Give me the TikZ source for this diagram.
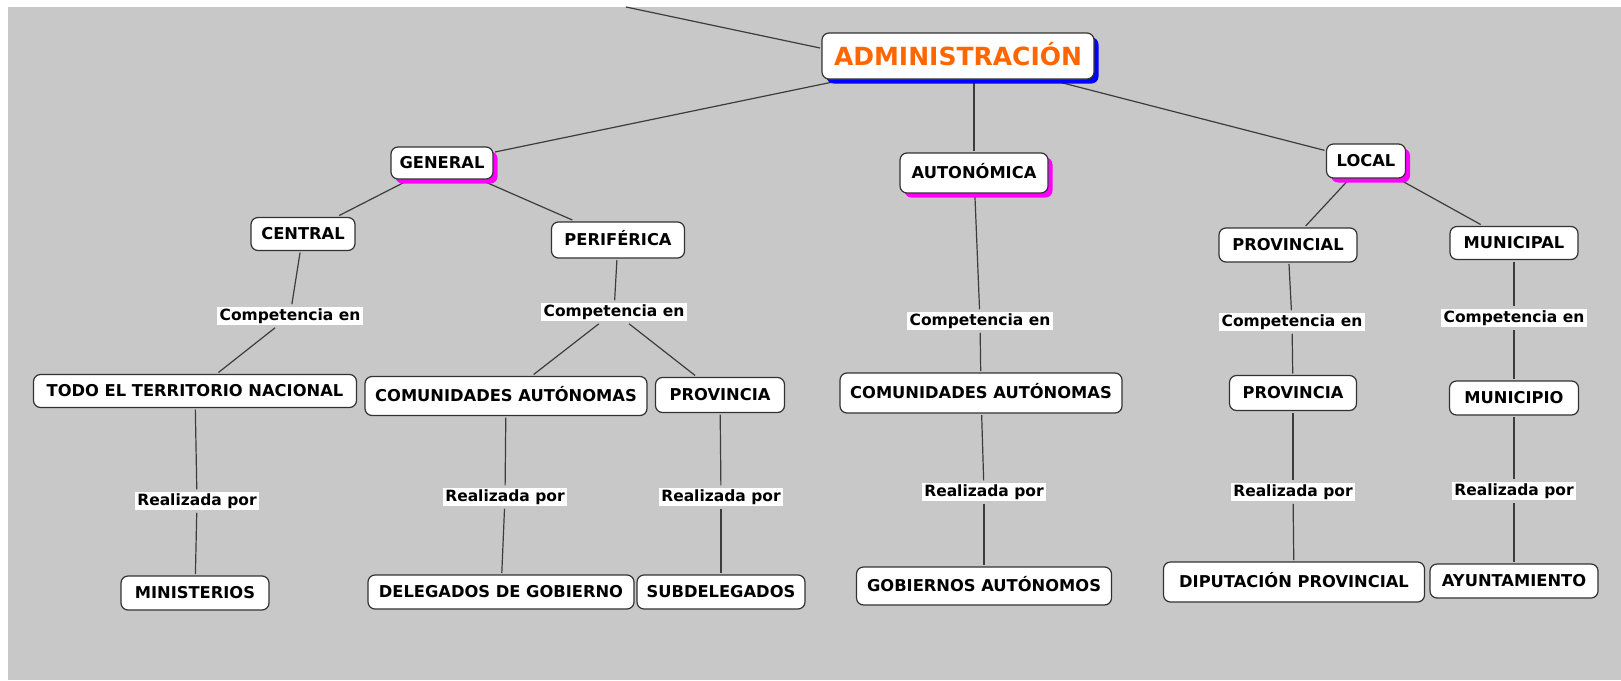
\documentclass[tikz,border=0pt]{standalone}
\usepackage{fontspec}
\setmainfont{DejaVu Sans}
\usetikzlibrary{shadows,backgrounds}
\definecolor{bg}{RGB}{200,200,200}
\definecolor{orng}{RGB}{255,102,0}
\definecolor{frame}{RGB}{50,50,50}
\definecolor{edge}{RGB}{60,60,60}
\definecolor{mgnt}{RGB}{255,0,255}
\definecolor{blu}{RGB}{0,0,255}
\begin{document}
\begin{tikzpicture}[x=1pt, y=-1pt,
    box/.style = {draw=frame, line width=1.2pt, rounded corners=7pt, fill=white,
      font=\fontsize{16.3}{19}\selectfont\bfseries, inner xsep=6pt, inner ysep=0pt,
      minimum height=34pt, text height=11.9pt, text depth=0pt, outer sep=2pt},
    lab/.style = {fill=white, font=\fontsize{15.5}{18}\selectfont\bfseries,
      inner xsep=2.5pt, inner ysep=1.5pt, text height=11.8pt, text depth=3.7pt, outer sep=2.5pt},
    shd/.style = {drop shadow={shadow xshift=4.5pt, shadow yshift=-4.5pt, fill=#1, opacity=1}},
    link/.style = {draw=edge, line width=1.2pt}]
  \useasboundingbox (0,0) rectangle (1621,680);

  % top level
  \node[box, shd=blu, text=orng, font=\fontsize{25}{30}\selectfont\bfseries, text height=18.2pt,
    minimum width=272, minimum height=46](adm) at (958,56) {ADMINISTRACIÓN};
  \coordinate (up) at (626,7);

  % second and third level
  \node[box, shd=mgnt, minimum width=102, minimum height=32](gen) at (442,163) {GENERAL};
  \node[box, shd=mgnt, minimum width=148, minimum height=40](aut) at (974,173) {AUTONÓMICA};
  \node[box, shd=mgnt, minimum width=79](loc) at (1366,161) {LOCAL};
  \node[box, minimum width=104, minimum height=33](cen) at (303,234) {CENTRAL};
  \node[box, minimum width=133, minimum height=36](per) at (618,240) {PERIFÉRICA};
  \node[box, minimum width=138](prl) at (1288,245) {PROVINCIAL};
  \node[box, minimum width=128, minimum height=33](mun) at (1514,243) {MUNICIPAL};

  % competencia en
  \node[lab](c1) at (290,316) {Competencia en};
  \node[lab](c2) at (614,312) {Competencia en};
  \node[lab](c3) at (980,321) {Competencia en};
  \node[lab](c4) at (1292,322) {Competencia en};
  \node[lab](c5) at (1514,318) {Competencia en};

  \node[box, minimum width=323, minimum height=33](tod) at (195,391) {TODO EL TERRITORIO NACIONAL};
  \node[box, minimum width=282, minimum height=39](cal) at (506,396) {COMUNIDADES AUTÓNOMAS};
  \node[box, minimum width=129, minimum height=35](pvg) at (720,395) {PROVINCIA};
  \node[box, minimum width=282, minimum height=40](car) at (981,393) {COMUNIDADES AUTÓNOMAS};
  \node[box, minimum width=127, minimum height=35](pvl) at (1293,393) {PROVINCIA};
  \node[box, minimum width=129](mpo) at (1514,398) {MUNICIPIO};

  % realizada por
  \node[lab](r1) at (197,501) {Realizada por};
  \node[lab](r2) at (505,497) {Realizada por};
  \node[lab](r3) at (721,497) {Realizada por};
  \node[lab](r4) at (984,492) {Realizada por};
  \node[lab](r5) at (1293,492) {Realizada por};
  \node[lab](r6) at (1514,491) {Realizada por};

  \node[box, minimum width=148](min) at (195,593) {MINISTERIOS};
  \node[box, minimum width=266](del) at (501,592) {DELEGADOS DE GOBIERNO};
  \node[box, minimum width=168](sub) at (721,592) {SUBDELEGADOS};
  \node[box, minimum width=255, minimum height=38](gob) at (984,586) {GOBIERNOS AUTÓNOMOS};
  \node[box, minimum width=261, minimum height=40](dip) at (1294,582) {DIPUTACIÓN PROVINCIAL};
  \node[box, minimum width=168](ayu) at (1514,581) {AYUNTAMIENTO};

  \begin{scope}[on background layer]
    \fill[white] (0,0) rectangle (1621,680);
    \fill[bg] (8,7) rectangle (1621,680);
    \draw[link] (up) -- ([yshift=8pt]adm.west); \draw[link] (adm) -- (gen);
    \draw[link] (aut) -- (aut |- adm.south); \draw[link] (adm) -- (loc);
    \draw[link] (gen) -- (cen); \draw[link] (gen) -- (per);
    \draw[link] (loc) -- (prl); \draw[link] (loc) -- (mun);
    \draw[link] (cen) -- (c1); \draw[link] (c1) -- (tod); \draw[link] (tod) -- (r1); \draw[link] (r1) -- (min);
    \draw[link] (per) -- (c2); \draw[link] (c2) -- (cal); \draw[link] (c2) -- (pvg);
    \draw[link] (cal) -- (r2); \draw[link] (r2) -- (del); \draw[link] (pvg) -- (r3); \draw[link] (r3) -- (sub);
    \draw[link] (aut) -- (c3); \draw[link] (c3) -- (car); \draw[link] (car) -- (r4); \draw[link] (r4) -- (gob);
    \draw[link] (prl) -- (c4); \draw[link] (c4) -- (pvl); \draw[link] (pvl) -- (r5); \draw[link] (r5) -- (dip);
    \draw[link] (mun) -- (c5); \draw[link] (c5) -- (mpo); \draw[link] (mpo) -- (r6); \draw[link] (r6) -- (ayu);
  \end{scope}
\end{tikzpicture}
\end{document}
